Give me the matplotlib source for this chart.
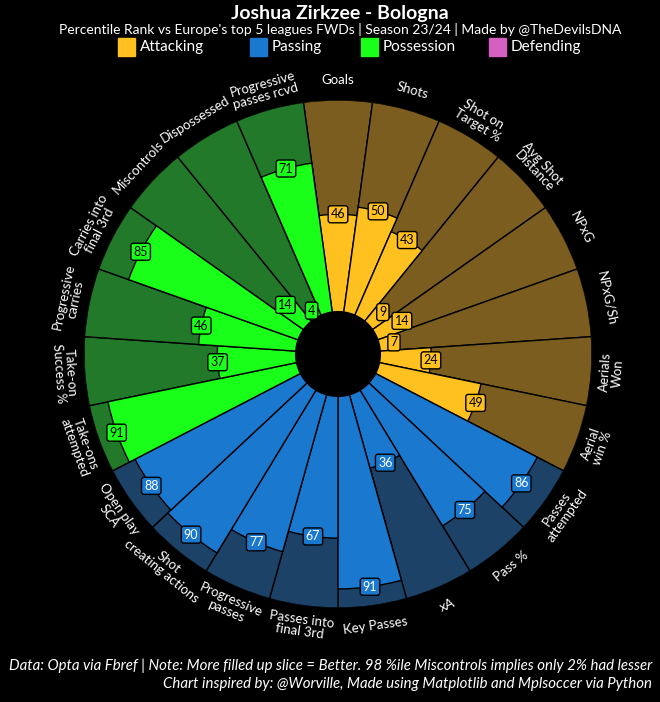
import matplotlib
matplotlib.use("Agg")
import matplotlib.pyplot as plt
import numpy as np
from matplotlib.patches import Rectangle

plt.rcParams['font.family'] = ['Lato', 'DejaVu Sans']

params = ["Goals", "Shots", "Shot on\nTarget %", "Avg Shot\nDistance", "NPxG", "NPxG/Sh",
          "Aerials\nWon", "Aerial\nwin %",
          "Passes\nattempted", "Pass %", "xA", "Key Passes", "Passes into\nfinal 3rd",
          "Progressive\npasses", "Shot\ncreating actions", "Open play\nSCA",
          "Take-ons\nattempted", "Take-on\nSuccess %", "Progressive\ncarries",
          "Carries into\nfinal 3rd", "Miscontrols", "Dispossessed", "Progressive\npasses rcvd"]
values = [46, 50, 43, 9, 14, 7, 24, 49,
          86, 75, 36, 91, 67, 77, 90, 88,
          91, 37, 46, 85, 14, 4, 71]
categories = ["Attacking"] * 8 + ["Passing"] * 8 + ["Possession"] * 7

legend_names = ["Attacking", "Passing", "Possession", "Defending"]
val_color = {"Attacking": "#FFC11F", "Passing": "#1A78CF", "Possession": "#1AFF1A", "Defending": "#D35FBE"}
bg_color = {"Attacking": "#7A5D1F", "Passing": "#1D4268", "Possession": "#23792A"}
txt_color = {"Attacking": "black", "Passing": "white", "Possession": "black"}

W, H = 660, 702
fig = plt.figure(figsize=(W / 100, H / 100), dpi=100, facecolor="black")

cx, cy, R = 338, 354, 254
ax = fig.add_axes([(cx - R) / W, (H - cy - R) / H, 2 * R / W, 2 * R / H], projection="polar")
ax.set_facecolor("black")
ax.set_theta_zero_location("N")
ax.set_theta_direction(-1)
ax.set_ylim(0, 120)
ax.axis("off")

n = len(params)
width = 2 * np.pi / n
theta = np.arange(n) * width

ax.bar(theta, [100] * n, width=width, bottom=20,
       color=[bg_color[c] for c in categories], edgecolor="black", linewidth=1, zorder=1)
ax.bar(theta, values, width=width, bottom=20,
       color=[val_color[c] for c in categories], edgecolor="black", linewidth=1, zorder=2)

for t, v, c in zip(theta, values, categories):
    ax.text(t, 20 + v, str(v), ha="center", va="center", fontsize=9, color=txt_color[c],
            zorder=5,
            bbox=dict(boxstyle="round,pad=0.2", fc=val_color[c], ec="black", lw=1))

for t, p in zip(theta, params):
    deg = np.degrees(t)
    if 90 < deg < 270:
        rot = 180 - deg
    else:
        rot = -deg
    ax.text(t, 129.5, p, ha="center", va="center", rotation=rot, rotation_mode="anchor",
            fontsize=9.5, color="white", linespacing=1.0, clip_on=False)

fig.text(340 / W, 1 - 13 / H, "Joshua Zirkzee - Bologna", ha="center", va="center",
         fontsize=14, fontweight="bold", color="white")
fig.text(340 / W, 1 - 30 / H,
         "Percentile Rank vs Europe's top 5 leagues FWDs | Season 23/24 | Made by @TheDevilsDNA",
         ha="center", va="center", fontsize=10, color="white")

leg_x = [118, 250, 361, 489]
for x, name in zip(leg_x, legend_names):
    fig.patches.append(Rectangle((x / W, 1 - 56 / H), 17 / W, 18 / H,
                                 transform=fig.transFigure, color=val_color[name]))
    fig.text((x + 22) / W, 1 - 47 / H, name, ha="left", va="center", fontsize=11, color="white")

fig.text(652 / W, 1 - 666 / H,
         "Data: Opta via Fbref | Note: More filled up slice = Better. 98 %ile Miscontrols implies only 2% had lesser",
         ha="right", va="center", fontsize=10.8, style="italic", color="white")
fig.text(652 / W, 1 - 684 / H,
         "Chart inspired by: @Worville, Made using Matplotlib and Mplsoccer via Python",
         ha="right", va="center", fontsize=10.8, style="italic", color="white")

fig.savefig("out.png", dpi=100, facecolor="black")
